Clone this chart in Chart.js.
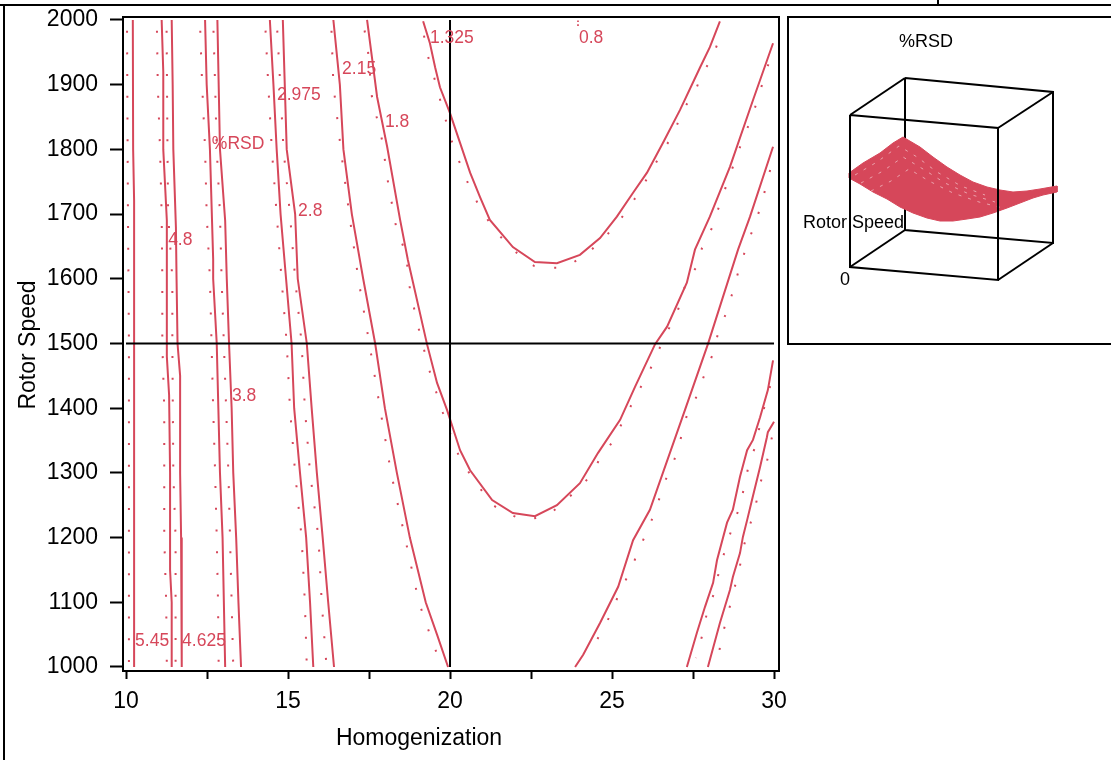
<!DOCTYPE html>
<html>
<head>
<meta charset="utf-8">
<title>%RSD contour</title>
<script src="https://cdn.jsdelivr.net/npm/chart.js@4.4.1/dist/chart.umd.min.js"></script>
<style>
  html, body { margin: 0; padding: 0; background: #fff; }
  #wrap { position: relative; width: 1111px; height: 760px; overflow: hidden; background: #fff; }
  #main { position: absolute; left: 0; top: 0; }
  #side { position: absolute; left: 789px; top: 18px; }
</style>
</head>
<body>
<div id="wrap">
  <canvas id="main" width="1111" height="760"></canvas>
  <canvas id="side" width="322" height="325"></canvas>
</div>
<script>
// 🔹 Ejes
const xTicks = [10, 12.5, 15, 17.5, 20, 22.5, 25, 27.5, 30];
const xTickLabels = ['10', '', '15', '', '20', '', '25', '', '30'];
const yTicks = [1000, 1100, 1200, 1300, 1400, 1500, 1600, 1700, 1800, 1900, 2000];
const crossX = 20;      // Homogenization de referencia
const crossY = 1500;    // Rotor Speed de referencia

// 🔹 Curvas de nivel (Homogenization, Rotor Speed) - linea continua
const contourA = [[10.21,2000],[10.22,1800],[10.25,1720],[10.25,1000]];
const contourB = [[11.10,2000],[11.15,1920],[11.15,1800],[11.26,1690],[11.26,1480],[11.33,1420],[11.36,1300],[11.36,1150],[11.41,1100],[11.41,1000]];
const contourC = [[11.41,2000],[11.44,1900],[11.46,1800],[11.54,1680],[11.56,1600],[11.59,1500],[11.67,1450],[11.67,1300],[11.70,1200],[11.72,1000]];
const contourD = [[12.44,2000],[12.49,1900],[12.59,1800],[12.69,1630],[12.69,1600],[12.80,1500],[12.85,1400],[12.90,1300],[12.98,1200],[13.02,1100],[13.06,1000]];
const contourE = [[12.82,2000],[12.86,1900],[12.90,1800],[13.06,1690],[13.11,1600],[13.18,1500],[13.26,1400],[13.31,1300],[13.40,1200],[13.47,1100],[13.55,1000]];
const contourF = [[14.44,2000],[14.55,1900],[14.65,1800],[14.77,1700],[14.94,1600],[15.11,1500],[15.19,1400],[15.37,1300],[15.56,1200],[15.68,1100],[15.78,1000]];
const contourG = [[14.84,2000],[14.96,1800],[15.22,1700],[15.30,1600],[15.58,1500],[15.73,1400],[15.89,1300],[16.07,1200],[16.24,1100],[16.42,1000]];
const contourH = [[16.40,2000],[16.60,1900],[16.71,1800],[16.97,1700],[17.32,1600],[17.69,1500],[17.99,1400],[18.36,1300],[18.76,1200],[19.25,1100],[19.60,1050],[19.94,1000]];
const contourI = [[17.44,2000],[17.75,1881],[18.06,1804],[18.46,1691],[18.70,1629],[18.86,1594],[19.29,1499],[19.60,1439],[19.91,1397],[20.31,1335],[20.62,1304],[21.30,1258],[21.94,1238],[22.62,1233],[23.30,1250],[24.01,1284],[24.57,1331],[25.25,1382],[25.71,1433],[26.33,1499],[26.70,1526],[27.31,1594],[27.56,1645],[28.02,1696],[28.64,1773],[29.35,1876],[29.97,1964]];
const contourJ = [[19.17,1998],[19.38,1964],[19.54,1927],[19.69,1896],[20.00,1856],[20.31,1810],[20.62,1764],[20.93,1726],[21.23,1691],[21.94,1649],[22.62,1626],[23.30,1624],[24.01,1637],[24.63,1663],[25.15,1696],[25.65,1733],[26.08,1764],[26.57,1810],[27.10,1861],[27.72,1927],[28.02,1958],[28.33,1998]];
const contourK = [[29.97,1804],[29.26,1696],[28.89,1645],[27.96,1499],[27.25,1397],[26.17,1243],[25.65,1196],[25.19,1124],[24.63,1068],[24.11,1019],[23.86,1000]];
const contourL = [[29.97,1474],[29.81,1428],[29.57,1386],[29.35,1351],[29.17,1335],[28.95,1294],[28.73,1243],[28.55,1223],[28.24,1165],[28.12,1130],[27.87,1093],[27.62,1053],[27.31,1000]];
const contourM = [[30.00,1379],[29.81,1363],[29.78,1355],[29.57,1309],[29.32,1258],[29.17,1227],[29.04,1201],[28.95,1176],[28.73,1139],[28.64,1119],[28.33,1068],[27.96,1000]];

// 🔹 Curvas punteadas que acompañan a cada nivel
const dotsA = [[10.03,2000],[10.06,1700],[10.09,1500],[10.09,1000]];
const dotsB = [[10.95,2000],[10.98,1900],[11.05,1800],[11.10,1700],[11.12,1600],[11.12,1500],[11.18,1400],[11.18,1200],[11.24,1100],[11.26,1000]];
const dotsC = [[11.25,2000],[11.28,1800],[11.30,1700],[11.43,1600],[11.43,1500],[11.46,1300],[11.53,1200],[11.53,1000]];
const dotsD = [[12.28,2000],[12.35,1900],[12.44,1800],[12.49,1700],[12.59,1600],[12.64,1500],[12.69,1400],[12.75,1300],[12.80,1200],[12.84,1100],[12.86,1000]];
const dotsE = [[12.69,2000],[12.75,1900],[12.80,1800],[12.90,1700],[12.95,1600],[13.02,1500],[13.09,1400],[13.16,1300],[13.21,1200],[13.26,1100],[13.31,1000]];
const dotsF = [[14.29,2000],[14.39,1900],[14.50,1800],[14.65,1700],[14.80,1600],[14.96,1500],[15.06,1400],[15.22,1300],[15.42,1200],[15.52,1100],[15.58,1000]];
const dotsG = [[14.65,2000],[14.76,1900],[14.86,1800],[15.06,1700],[15.22,1600],[15.42,1500],[15.52,1400],[15.68,1300],[15.94,1200],[16.04,1100],[16.19,1000]];
const dotsH = [[16.33,2000],[16.40,1900],[16.63,1800],[16.89,1700],[17.17,1600],[17.51,1500],[17.84,1400],[18.18,1300],[18.61,1200],[19.04,1100],[19.45,1040],[19.75,1000]];
const dotsI = [[17.31,2000],[17.47,1951],[17.59,1881],[17.90,1815],[18.09,1748],[18.33,1682],[18.64,1638],[18.77,1581],[19.07,1515],[19.41,1450],[19.78,1393],[20.09,1349],[20.34,1318],[20.83,1283],[21.27,1252],[21.64,1240],[22.28,1227],[22.96,1233],[23.40,1249],[23.77,1267],[24.26,1291],[24.57,1317],[25.03,1349],[25.31,1377],[25.71,1416],[26.17,1459],[26.39,1484],[26.67,1515],[27.01,1547],[27.28,1594],[27.59,1617],[27.78,1648],[28.09,1679],[28.33,1716],[28.73,1773],[29.04,1816],[29.32,1850],[29.57,1889],[29.72,1917],[29.97,1951]];
const dotsJ = [[19.14,1992],[19.29,1949],[19.48,1917],[19.66,1883],[20.03,1816],[20.28,1782],[20.56,1747],[20.86,1716],[21.30,1680],[21.70,1657],[22.25,1631],[22.59,1620],[22.96,1617],[23.46,1617],[23.77,1624],[24.29,1641],[24.57,1655],[25.09,1680],[25.62,1717],[26.11,1757],[26.54,1796],[26.88,1822],[27.19,1861],[27.56,1889],[27.78,1917],[28.09,1941],[28.40,1983]];
const dotsK = [[29.97,1784],[29.78,1750],[29.63,1717],[29.35,1677],[29.14,1648],[28.92,1615],[28.73,1580],[28.52,1547],[28.27,1515],[28.09,1481],[27.84,1450],[27.59,1416],[27.31,1389],[27.10,1349],[26.91,1318],[26.60,1283],[26.39,1249],[26.20,1224],[26.08,1209],[25.83,1182],[25.59,1151],[25.22,1114],[24.97,1082],[24.60,1048],[24.29,1017]];
const dotsL = [[29.97,1450],[29.78,1416],[29.60,1383],[29.44,1343],[29.23,1315],[29.10,1283],[28.95,1249],[28.73,1219],[28.49,1181],[28.30,1148],[28.18,1117],[27.96,1091],[27.78,1048],[27.59,1014]];
const dotsM = [[30.00,1371],[29.78,1317],[29.57,1283],[29.41,1244],[29.23,1215],[29.04,1182],[28.92,1148],[28.73,1113],[28.58,1082],[28.40,1048],[28.27,1014]];
const dotsMin = [[23.95,1998],[23.95,1992]];   // nivel 0.8, solo asoma arriba

// 🔹 Etiquetas de nivel
const levelLabels = ['5.45', '4.625', '4.8', '%RSD', '3.8', '2.975', '2.8', '2.15', '1.8', '1.325', '0.8'];
const levelLabelX = [10.28, 11.73, 11.30, 12.65, 13.27, 14.66, 15.31, 16.67, 17.99, 19.38, 23.98];
const levelLabelY = [1040, 1040, 1660, 1808, 1419, 1884, 1705, 1924, 1842, 1972, 1972];

// 🔹 Panel 3D (coordenadas proyectadas del panel)
const cubeFront = [[61,97],[209,110],[209,262],[61,249],[61,97]];
const cubeBack = [[116,60],[264,74],[264,225],[116,212],[116,60]];
const cubeLinks = [[[61,97],[116,60]], [[209,110],[264,74]], [[209,262],[264,225]], [[61,249],[116,212]]];
const surfaceEdge = [[60,155],[74,145],[91,135],[104,125],[114,119],[131,129],[144,139],[158,149],[171,157],[184,164],[198,169],[211,172],[224,174],[238,173],[251,171],[268,168],[268,174],[254,177],[244,180],[231,185],[218,190],[204,195],[191,199],[178,201],[164,203],[151,203],[138,200],[124,195],[111,189],[98,181],[84,174],[71,166],[60,160],[60,155]];
const meshRow1 = [[66,157],[88,144],[110,128],[128,139],[148,154],[172,168],[196,177]];
const meshRow2 = [[72,165],[94,153],[114,139],[134,151],[156,165],[180,176],[206,184]];
const meshRow3 = [[82,173],[102,163],[120,151],[140,163],[164,175],[190,184],[214,190]];

const red = 'rgb(214, 71, 90)';
const font = '"Liberation Sans", Arial, sans-serif';

console.log("✅ Datos cargados.");

function toPoints(arr) {
    return arr.map(p => ({ x: p[0], y: p[1] }));
}

const solidSeries = [contourA, contourB, contourC, contourD, contourE, contourF, contourG, contourH, contourI, contourJ, contourK, contourL, contourM];
const dottedSeries = [dotsA, dotsB, dotsC, dotsD, dotsE, dotsF, dotsG, dotsH, dotsI, dotsJ, dotsK, dotsL, dotsM];

const mainDatasets = [
    { data: toPoints([[crossX, 1000], [crossX, 2000]]), borderColor: '#000', borderWidth: 2, order: 0 },
    { data: toPoints([[10, crossY], [30, crossY]]), borderColor: '#000', borderWidth: 2, order: 0 }
];
solidSeries.forEach(s => {
    mainDatasets.push({ data: toPoints(s), borderColor: red, borderWidth: 2, order: 1 });
});
dottedSeries.forEach(s => {
    mainDatasets.push({ data: toPoints(s), borderColor: red, borderWidth: 2, borderDash: [2, 19.7], borderDashOffset: 11, borderCapStyle: 'butt', order: 2 });
});
mainDatasets.push({ data: toPoints(dotsMin), showLine: false, pointRadius: 1.2, pointStyle: 'rect', pointBackgroundColor: red, pointBorderWidth: 0, order: 2 });

// 📌 Etiquetas de las curvas
const levelLabelPlugin = {
    id: 'levelLabels',
    afterDatasetsDraw(chart) {
        const { ctx, scales: { x, y } } = chart;
        ctx.save();
        ctx.font = '17.5px ' + font;
        ctx.fillStyle = red;
        ctx.textAlign = 'left';
        ctx.textBaseline = 'middle';
        levelLabels.forEach((t, i) => {
            ctx.fillText(t, x.getPixelForValue(levelLabelX[i]), y.getPixelForValue(levelLabelY[i]));
        });
        ctx.restore();
    }
};

// 📌 Marco, titulos de ejes y caja del panel
const framePlugin = {
    id: 'frame',
    afterDraw(chart) {
        const { ctx, chartArea: a } = chart;
        ctx.save();
        ctx.strokeStyle = '#000';
        ctx.lineWidth = 2;
        ctx.strokeRect(a.left, a.top, a.right - a.left, a.bottom - a.top);

        ctx.beginPath();
        ctx.moveTo(0, 5); ctx.lineTo(1111, 5);
        ctx.moveTo(938, 0); ctx.lineTo(938, 5);
        ctx.moveTo(4, 5); ctx.lineTo(4, 760);
        ctx.moveTo(1111, 17); ctx.lineTo(788, 17); ctx.lineTo(788, 344); ctx.lineTo(1111, 344);
        ctx.stroke();

        ctx.fillStyle = '#000';
        ctx.font = '23px ' + font;
        ctx.textAlign = 'center';
        ctx.textBaseline = 'alphabetic';
        ctx.fillText('Homogenization', 419, 745);
        ctx.translate(35, 345);
        ctx.rotate(-Math.PI / 2);
        ctx.fillText('Rotor Speed', 0, 0);
        ctx.restore();
    }
};

const mainChart = new Chart(document.getElementById('main'), {
    type: 'scatter',
    data: { datasets: mainDatasets },
    options: {
        responsive: false,
        animation: false,
        showLine: true,
        elements: { point: { radius: 0 }, line: { tension: 0 } },
        layout: { padding: { left: 0, top: 17, right: 332, bottom: 0 } },
        plugins: { legend: { display: false }, tooltip: { enabled: false } },
        scales: {
            x: {
                type: 'linear',
                min: 9.907,
                max: 30.154,
                afterBuildTicks: axis => { axis.ticks = xTicks.map(v => ({ value: v })); },
                afterFit: axis => { axis.height = 89; axis.paddingLeft = 0; axis.paddingRight = 0; },
                border: { display: false },
                grid: { drawOnChartArea: false, drawTicks: true, tickLength: 8, tickColor: '#000', tickWidth: 2 },
                ticks: {
                    autoSkip: false, maxRotation: 0, padding: 9, color: '#000',
                    font: { family: font, size: 23 },
                    callback: v => xTickLabels[xTicks.indexOf(v)]
                }
            },
            y: {
                type: 'linear',
                min: 993.8,
                max: 2004.6,
                afterBuildTicks: axis => { axis.ticks = yTicks.map(v => ({ value: v })); },
                afterFit: axis => { axis.width = 123; axis.paddingTop = 0; axis.paddingBottom = 0; },
                border: { display: false },
                grid: { drawOnChartArea: false, drawTicks: true, tickLength: 13, tickColor: '#000', tickWidth: 2 },
                ticks: {
                    autoSkip: false, padding: 12, color: '#000',
                    font: { family: font, size: 23 },
                    callback: v => String(v)
                }
            }
        }
    },
    plugins: [levelLabelPlugin, framePlugin]
});

// 🔹 Panel lateral con la superficie
const meshStyle = { borderColor: 'rgba(240, 185, 192, 0.8)', borderWidth: 1, borderDash: [3, 7], order: 1.5 };
const sideDatasets = [
    { data: toPoints(cubeFront), borderColor: '#000', borderWidth: 2, order: 1 },
    Object.assign({ data: toPoints(meshRow1) }, meshStyle),
    Object.assign({ data: toPoints(meshRow2) }, meshStyle),
    Object.assign({ data: toPoints(meshRow3) }, meshStyle),
    { data: toPoints(surfaceEdge), borderColor: red, borderWidth: 1, backgroundColor: red, fill: 'shape', order: 2 },
    { data: toPoints(cubeBack), borderColor: '#000', borderWidth: 2, order: 3 }
];
cubeLinks.forEach(seg => {
    sideDatasets.push({ data: toPoints(seg), borderColor: '#000', borderWidth: 2, order: 3 });
});

const sideTextPlugin = {
    id: 'sideText',
    afterDatasetsDraw(chart) {
        const { ctx, scales: { x, y } } = chart;
        ctx.save();
        ctx.fillStyle = '#000';
        ctx.font = '18px ' + font;
        ctx.textBaseline = 'middle';
        ctx.textAlign = 'center';
        ctx.fillText('%RSD', x.getPixelForValue(137), y.getPixelForValue(24));
        ctx.fillText('0', x.getPixelForValue(56), y.getPixelForValue(262));
        ctx.textAlign = 'left';
        ctx.fillText('Rotor Speed', x.getPixelForValue(14), y.getPixelForValue(205));
        ctx.restore();
    }
};

const sideChart = new Chart(document.getElementById('side'), {
    type: 'scatter',
    data: { datasets: sideDatasets },
    options: {
        responsive: false,
        animation: false,
        showLine: true,
        elements: { point: { radius: 0 }, line: { tension: 0 } },
        layout: { padding: 0 },
        plugins: { legend: { display: false }, tooltip: { enabled: false } },
        scales: {
            x: { type: 'linear', display: false, min: 0, max: 322 },
            y: { type: 'linear', display: false, min: 0, max: 325, reverse: true }
        }
    },
    plugins: [sideTextPlugin]
});

console.log("📊 Graficos listos.");
</script>
</body>
</html>
